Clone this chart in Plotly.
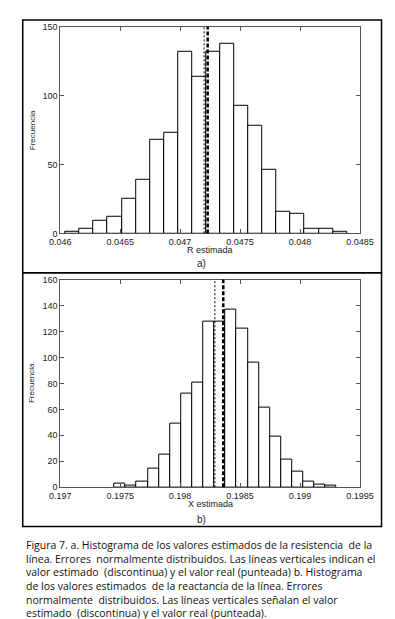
import plotly.graph_objects as go

W, H = 395, 619

# ---- data ----
r_counts = [1, 3, 9, 12, 25, 39, 68, 73, 132, 114, 132, 138, 93, 78, 46, 16, 14, 3, 3, 1]
r_min, r_max = 0.046044, 0.048391
r_est, r_real = 0.04723, 0.04720

x_counts = [3, 1, 4, 14, 25, 49, 72, 81, 128, 128, 137, 122, 96, 61, 39, 21, 12, 4, 2, 1]
x_min, x_max = 0.197452, 0.199306
x_est, x_real = 0.19836, 0.19829

r_ticks = [0.046, 0.0465, 0.047, 0.0475, 0.048, 0.0485]
r_ticktext = ["0.046", "0.0465", "0.047", "0.0475", "0.048", "0.0485"]
r_yticks = [0, 50, 100, 150]
x_ticks = [0.197, 0.1975, 0.198, 0.1985, 0.199, 0.1995]
x_ticktext = ["0.197", "0.1975", "0.198", "0.1985", "0.199", "0.1995"]
x_yticks = [0, 20, 40, 60, 80, 100, 120, 140, 160]

caption_lines = [
    "Figura 7. a. Histograma de los valores estimados de la resistencia  de la",
    "línea. Errores  normalmente distribuidos. Las líneas verticales indican el",
    "valor estimado  (discontinua) y el valor real (punteada) b. Histograma",
    "de los valores estimados  de la reactancia de la línea. Errores",
    "normalmente  distribuidos. Las líneas verticales señalan el valor",
    "estimado  (discontinua) y el valor real (punteada).",
]


def bins(lo, hi, n):
    w = (hi - lo) / n
    return [lo + w * (i + 0.5) for i in range(n)], w


def px(x):
    return x / W


def py(y):
    return 1 - y / H


fig = go.Figure()

rc, rw = bins(r_min, r_max, len(r_counts))
xc, xw = bins(x_min, x_max, len(x_counts))

fig.add_trace(go.Bar(x=rc, y=r_counts, width=rw, marker=dict(color="white", line=dict(color="black", width=1)),
                     xaxis="x", yaxis="y", showlegend=False))
fig.add_trace(go.Bar(x=xc, y=x_counts, width=xw, marker=dict(color="white", line=dict(color="black", width=1)),
                     xaxis="x2", yaxis="y2", showlegend=False))

tickfont = dict(family="Liberation Sans, Arial", size=9, color="#222")
axis_common = dict(showline=True, linecolor="#555", linewidth=1, mirror="ticks", ticks="inside",
                   ticklen=4, tickcolor="#555", showgrid=False, zeroline=False, tickfont=tickfont)

fig.update_layout(
    width=W, height=H, margin=dict(l=0, r=0, t=0, b=0),
    paper_bgcolor="white", plot_bgcolor="white", bargap=0,
    xaxis=dict(domain=[px(44), px(364)], range=[0.046, 0.0485], tickvals=r_ticks, ticktext=r_ticktext,
               anchor="y", **axis_common),
    yaxis=dict(domain=[py(224), py(14)], range=[0, 150], tickvals=r_yticks, anchor="x", **axis_common),
    xaxis2=dict(domain=[px(44), px(364)], range=[0.197, 0.1995], tickvals=x_ticks, ticktext=x_ticktext,
                anchor="y2", **axis_common),
    yaxis2=dict(domain=[py(482), py(271)], range=[0, 160], tickvals=x_yticks, anchor="x2", **axis_common),
)

# vertical lines
for xr, ya, xv, style in [("x", "y", r_est, "est"), ("x", "y", r_real, "real"),
                          ("x2", "y2", x_est, "est"), ("x2", "y2", x_real, "real")]:
    if style == "est":
        line = dict(color="black", width=2.5, dash="4px,2px")
    else:
        line = dict(color="black", width=1, dash="2px,2px")
    fig.add_shape(type="line", xref=xr, yref=ya + " domain", x0=xv, x1=xv, y0=0, y1=1, line=line)

# outer boxes
fig.add_shape(type="rect", xref="paper", yref="paper", x0=px(4), x1=px(387), y0=py(264), y1=py(7),
              line=dict(color="black", width=1.5))
fig.add_shape(type="rect", xref="paper", yref="paper", x0=px(4), x1=px(387), y0=py(522), y1=py(264),
              line=dict(color="black", width=1.5))

lab = dict(family="Liberation Sans, Arial", size=9, color="#222")
ann = [
    dict(x=px(204), y=py(241), text="R estimada", font=lab),
    dict(x=px(195), y=py(255), text="a)", font=dict(family="Liberation Sans, Arial", size=10, color="#222")),
    dict(x=px(14), y=py(119), text="Frecuencia", font=dict(family="Liberation Sans, Arial", size=8, color="#222"),
         textangle=-90),
    dict(x=px(204), y=py(499), text="X estimada", font=lab),
    dict(x=px(195), y=py(515), text="b)", font=dict(family="Liberation Sans, Arial", size=10, color="#222")),
    dict(x=px(14), y=py(376), text="Frecuencia", font=dict(family="Liberation Sans, Arial", size=8, color="#222"),
         textangle=-90),
]
for a in ann:
    fig.add_annotation(xref="paper", yref="paper", showarrow=False, xanchor="center", yanchor="middle", **a)

fig.add_annotation(xref="paper", yref="paper", x=px(5), y=py(575), text="<br>".join(caption_lines),
                   showarrow=False, xanchor="left", yanchor="middle", align="left",
                   font=dict(family="Open Sans", size=10.5, color="#111"))

fig.write_html("out.html")
